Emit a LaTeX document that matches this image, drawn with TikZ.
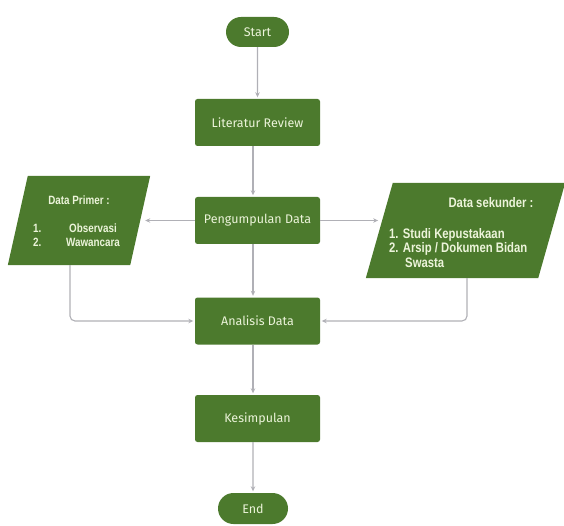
\documentclass[tikz,border=0pt]{standalone}
\usepackage{fontspec}
\setmainfont{Fira Sans}
\newfontfamily\condfont[FakeStretch=0.82]{Liberation Sans}
\usetikzlibrary{shapes.misc,arrows.meta,calc}

\definecolor{boxgreen}{RGB}{76,122,45}
\definecolor{boxtext}{RGB}{236,244,218}
\definecolor{linegray}{RGB}{176,176,182}

\tikzset{
  stepbox/.style={rectangle, rounded corners=2.5pt, fill=boxgreen, text=boxtext,
    minimum width=125pt, minimum height=47pt, inner sep=0pt, font=\fontsize{12.5}{14}\selectfont},
  terminal/.style={rounded rectangle, fill=boxgreen, text=boxtext,
    minimum width=63pt, minimum height=30pt, inner sep=0pt, font=\fontsize{12.5}{14}\selectfont},
  iofield/.style={rectangle, inner sep=0pt},
  iofill/.style={fill=boxgreen},
  iotext/.style={text=boxtext, inner sep=0pt, font=\condfont\bfseries\fontsize{13.8}{15}\selectfont},
  iotextsmall/.style={iotext, font=\condfont\bfseries\fontsize{12}{14}\selectfont},
  conn/.style={draw=linegray, line width=1.1pt, -{Stealth[length=5pt,width=4.5pt]}},
}

\begin{document}
\begin{tikzpicture}[x=1pt, y=-1pt]
  \useasboundingbox (0,0) rectangle (564,526);

  % main column
  \node[terminal] (start) at (257.5,32) {Start};
  \node[stepbox] (lit)  at (257.5,122.5) {Literatur Review};
  \node[stepbox] (peng) at (257.5,220.5) {Pengumpulan Data};
  \node[stepbox] (anal) at (257.5,321) {Analisis Data};
  \node[stepbox] (kes)  at (257.5,418.5) {Kesimpulan};
  \node[terminal, minimum width=70pt, minimum height=31pt] (end) at (253,508.5) {End};

  % input/output boxes: a frame node, filled as a parallelogram
  \node[iofield, minimum width=142pt, minimum height=89pt] (prim) at (79,220.5) {};
  \fill[iofill] (prim.south west) -- ($(prim.north west)+(20,0)$) -- (prim.north east)
    -- ($(prim.south east)-(20,0)$) -- cycle;
  \node[iofield, minimum width=199pt, minimum height=95pt] (sek) at (465.5,230.5) {};
  \fill[iofill] (sek.south west) -- ($(sek.north west)+(27,0)$) -- (sek.north east)
    -- ($(sek.south east)-(27,0)$) -- cycle;

  % texts of the primary data box
  \node[iotextsmall] (primt) at (79,200) {Data Primer :};
  \node[iotextsmall, anchor=west] (primn1) at (33,228) {1.};
  \node[iotextsmall] (primi1) at (93,228) {Observasi};
  \node[iotextsmall, anchor=west] (primn2) at (33,242) {2.};
  \node[iotextsmall] (primi2) at (93,242) {Wawancara};

  % texts of the secondary data box
  \node[iotext] (sekt) at (491,203) {Data sekunder :};
  \node[iotext, anchor=west] (sek1) at (389,235) {1. Studi Kepustakaan};
  \node[iotext, anchor=west] (sek2) at (389,249) {2. Arsip / Dokumen Bidan};
  \node[iotext, anchor=west] (sek3) at (405,263) {Swasta};

  % connector end points on the slanted box edges
  \coordinate (primbr)  at ($(prim.south east)-(20,0)$);
  \coordinate (sektl)   at ($(sek.north west)+(27,0)$);
  \coordinate (sekbr)   at ($(sek.south east)-(27,0)$);
  \coordinate (primin)  at ($(primbr)!0.5!(prim.north east)$);
  \coordinate (sekin)   at ($(sek.south west)!0.605!(sektl)$);
  \coordinate (primout) at ($(prim.south west)!0.508!(primbr)$);
  \coordinate (sekout)  at ($(sek.south west)!0.587!(sekbr)$);

  % connectors
  \draw[conn, shorten >=1.5pt] (start) -- (lit);
  \draw[conn, shorten >=1.5pt] ([xshift=-4.5pt]lit.south) -- ([xshift=-4.5pt]peng.north);
  \draw[conn, shorten >=1.5pt] ([xshift=-4.5pt]peng.south) -- ([xshift=-4.5pt]anal.north);
  \draw[conn, shorten >=1.5pt] ([xshift=-4.5pt]anal.south) -- ([xshift=-4.5pt]kes.north);
  \draw[conn, shorten >=1.5pt] ([xshift=-4.5pt]kes.south) -- (end);
  \draw[conn, shorten >=5pt] (peng.west) -- (peng.west -| primin);
  \draw[conn, shorten >=4pt] (peng.east) -- (peng.east -| sekin);
  \draw[conn, rounded corners=5pt, shorten >=1.5pt] (primout) |- (anal.west);
  \draw[conn, rounded corners=5pt, shorten >=1.5pt] (sekout) |- (anal.east);
\end{tikzpicture}
\end{document}
